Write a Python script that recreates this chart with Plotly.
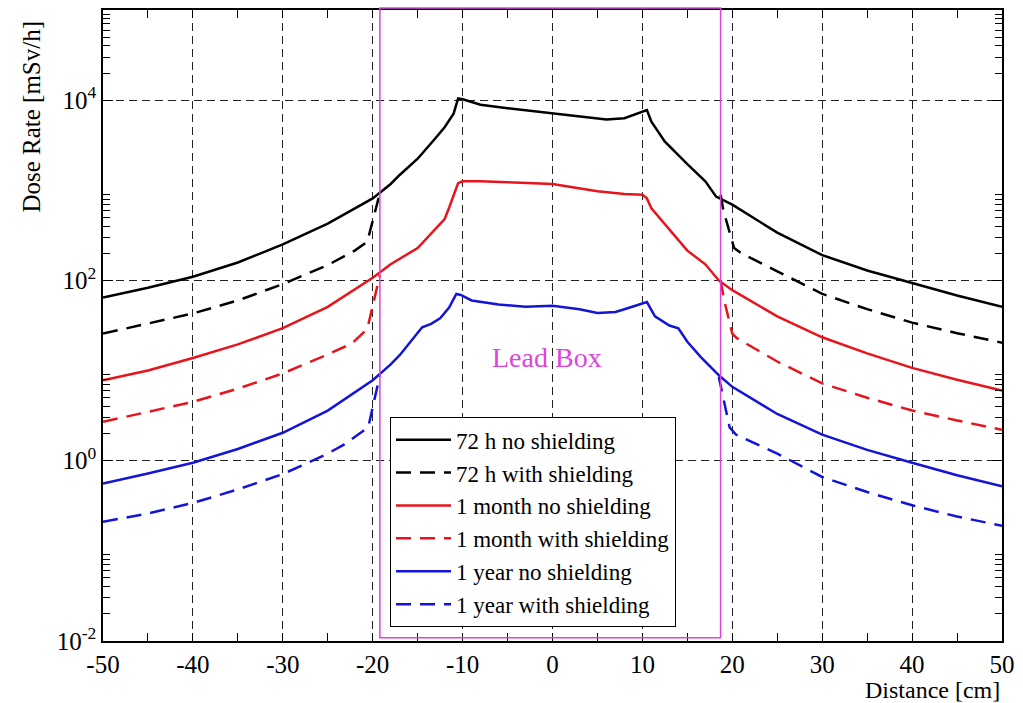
import plotly.graph_objects as go

# ---- data ----
x_72h_no = [-50, -45, -40, -35, -30, -25, -20, -18, -17, -15, -13, -12, -11, -10.5, -10, -8, -5, 0, 3, 6, 8, 10, 10.5,
            11, 12.5, 15, 17, 18.2, 20, 25, 30, 35, 40, 45, 50]
y_72h_no = [64.6, 83, 110, 158, 251, 427, 813, 1175, 1479, 2239, 3802, 5012, 7079, 10471, 10233, 8913, 8128, 7079, 6600,
            6100, 6310, 7413, 7762, 5754, 3467, 1950, 1259, 851, 692, 339, 191, 129, 93, 68, 51]

x_72h_sh = [-50, -45, -40, -35, -30, -25, -22, -20.6, -19.2, None, 18.7, 19.0, 20.2, 21, 25, 30, 35, 40, 45, 50]
y_72h_sh = [25.7, 33, 43, 60, 91, 148, 214, 269, 933, None, 891, 603, 229, 200, 126, 71, 48, 34, 26, 20.4]

x_1m_no = [-50, -45, -40, -35, -30, -25, -20, -18, -15, -13, -12, -11.5, -11, -10.5, -10, -8, -5, 0, 5, 8, 10, 10.5,
           11, 12.2, 15, 17, 18.5, 20, 25, 30, 35, 40, 45, 50]
y_1m_no = [7.8, 10, 13.8, 19.5, 29.5, 51, 107, 151, 229, 372, 480, 640, 891, 1202, 1259, 1259, 1230, 1175, 977, 912,
           891, 813, 631, 457, 214, 151, 100, 78, 40, 23.4, 15.5, 10.7, 7.9, 6.0]

x_1m_sh = [-50, -45, -40, -35, -30, -25, -22.3, -20.6, -19.2, None, 18.7, 19.1, 20.0, 20.5, 25, 30, 35, 40, 45, 50]
y_1m_sh = [2.7, 3.5, 4.5, 6.3, 9.3, 15.1, 20, 29, 115, None, 100, 60, 25.7, 22.9, 12.6, 7.2, 5.0, 3.6, 2.8, 2.2]

x_1y_no = [-50, -45, -40, -35, -30, -25, -20, -19, -18, -17, -16, -15, -14.5, -13.5, -12.5, -11.5, -10.7, -10.2, -9,
           -6, -3, 0, 3, 5, 7, 8, 10.5, 11.4, 13, 14, 15, 16.5, 18.6, 20, 25, 30, 35, 40, 45, 50]
y_1y_no = [0.56, 0.72, 0.95, 1.35, 2.04, 3.6, 7.8, 9.5, 11.7, 14.8, 19.5, 26.3, 30.2, 33, 38, 50, 70.8, 69, 60,
           54, 51, 52.5, 47.9, 43.6, 44.7, 47.9, 57.5, 40, 31.6, 29.5, 20.9, 14.1, 8.7, 6.6, 3.3, 1.95, 1.32, 0.95,
           0.69, 0.52]

x_1y_sh = [-50, -45, -40, -35, -30, -25, -23.2, -20.5, -19.2, None, 18.5, 19.0, 19.7, 20.4, 25, 30, 35, 40, 45, 50]
y_1y_sh = [0.21, 0.26, 0.34, 0.48, 0.71, 1.2, 1.51, 2.34, 8.9, None, 8.5, 5.0, 2.34, 1.95, 1.2, 0.66, 0.45, 0.32,
           0.24, 0.19]

lead_box_edges = [-19.2, 18.7]

x_ticks = [-50, -40, -30, -20, -10, 0, 10, 20, 30, 40, 50]
x_tick_text = ["-50", "-40", "-30", "-20", "-10", "0", "10", "20", "30", "40", "50"]
y_ticks = [1e-2, 1e0, 1e2, 1e4]
y_tick_text = ["10<sup>-2</sup>", "10<sup>0</sup>", "10<sup>2</sup>", "10<sup>4</sup>"]

BLACK = "#000000"
RED = "#e8141c"
BLUE = "#1414d8"
MAGENTA = "#dd44dd"
FONT = "Liberation Serif"
DASH = "15px,9px"

series = [
    ("72 h no shielding", x_72h_no, y_72h_no, BLACK, "solid"),
    ("72 h with shielding", x_72h_sh, y_72h_sh, BLACK, DASH),
    ("1 month no shielding", x_1m_no, y_1m_no, RED, "solid"),
    ("1 month with shielding", x_1m_sh, y_1m_sh, RED, DASH),
    ("1 year no shielding", x_1y_no, y_1y_no, BLUE, "solid"),
    ("1 year with shielding", x_1y_sh, y_1y_sh, BLUE, DASH),
]

fig = go.Figure()
for name, xs, ys, col, dash in series:
    fig.add_trace(go.Scatter(x=xs, y=ys, mode="lines", name=name,
                             line=dict(color=col, width=2.5, dash=dash)))

# Lead box
fig.add_shape(type="rect", xref="x", yref="paper", x0=lead_box_edges[0], x1=lead_box_edges[1],
              y0=0.005, y1=1.003, line=dict(color=MAGENTA, width=1.5), layer="above")
fig.add_annotation(x=-0.6, xref="x", y=0.449, yref="paper", yanchor="middle", text="Lead Box",
                   showarrow=False, font=dict(family=FONT, size=28, color=MAGENTA))

minor_y = [m * 10 ** e for e in (-2, 0, 2, 4) for m in range(2, 10)]

fig.update_xaxes(range=[-50, 50], tickvals=x_ticks, ticktext=x_tick_text, ticks="inside", ticklen=8,
                 tickcolor="black", showline=True, linecolor="black", linewidth=1.5, mirror="ticks",
                 showgrid=True, gridcolor="#222222", gridwidth=1.2, griddash="8px,5px",
                 zeroline=False, tickfont=dict(family=FONT, size=25, color="black"),
                 minor=dict(dtick=5, tick0=0, ticks="inside", ticklen=8, tickcolor="black", showgrid=False))
fig.update_yaxes(type="log", range=[-2, 5], tickvals=y_ticks, ticktext=y_tick_text, ticks="inside",
                 ticklen=10, tickcolor="black", showline=True, linecolor="black", linewidth=1.5,
                 mirror="ticks", showgrid=True, gridcolor="#222222", gridwidth=1.2, griddash="8px,5px",
                 zeroline=False, tickfont=dict(family=FONT, size=25, color="black"),
                 minor=dict(tickvals=minor_y, ticks="inside", ticklen=7, tickcolor="black", showgrid=False))

fig.add_annotation(x=1.0, xref="paper", xanchor="right", y=-0.078, yref="paper", yanchor="middle",
                   text="Distance [cm]", showarrow=False, font=dict(family=FONT, size=24, color="black"))
fig.add_annotation(x=-0.079, xref="paper", xanchor="center", y=0.831, yref="paper", yanchor="middle",
                   textangle=-90, text="Dose Rate [mSv/h]", showarrow=False,
                   font=dict(family=FONT, size=25, color="black"))

fig.update_layout(
    width=1023, height=703,
    margin=dict(l=103, r=16, t=8, b=62),
    paper_bgcolor="white", plot_bgcolor="white",
    font=dict(family=FONT, color="black"),
    legend=dict(x=0.319, y=0.355, xanchor="left", yanchor="top",
                bgcolor="white", bordercolor="black", borderwidth=1.2, itemwidth=55,
                font=dict(family=FONT, size=23, color="black"), tracegroupgap=0),
    showlegend=True,
)

fig.write_html("out.html", config={"displayModeBar": False},
               post_script="document.body.style.margin='0';document.body.style.padding='0';")
